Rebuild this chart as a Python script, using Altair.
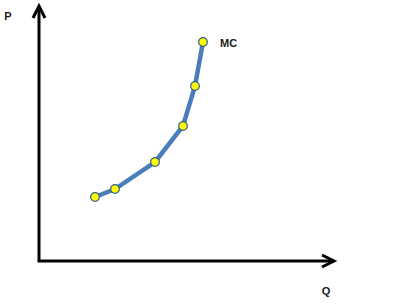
import altair as alt
import pandas as pd

# MC curve points (Q, P)
q_vals = [5.6, 7.6, 11.6, 14.4, 15.6, 16.4]
p_vals = [6.4, 7.2, 9.9, 13.5, 17.5, 21.9]

# axis extents
axis_q = [0, 0, 29.5]
axis_p = [25.5, 0, 0]
axis_order = [0, 1, 2]

# labels
label_text = ["P", "Q"]
label_q = [-3.1, 28.7]
label_p = [24.4, -3.1]

mc_df = pd.DataFrame({"Q": q_vals, "P": p_vals})
axis_df = pd.DataFrame({"Q": axis_q, "P": axis_p, "o": axis_order})
lab_df = pd.DataFrame({"t": label_text, "Q": label_q, "P": label_p})
mc_lab = pd.DataFrame({"t": ["MC"], "Q": [q_vals[-1] + 1.7], "P": [p_vals[-1] - 0.2]})
ytip = pd.DataFrame({"Q": [axis_q[0]], "P": [axis_p[0]]})
xtip = pd.DataFrame({"Q": [axis_q[2]], "P": [axis_p[2]]})

xs = alt.Scale(domain=[-3.9, 35.5], nice=False, zero=False)
ys = alt.Scale(domain=[-4.5, 26.1], nice=False, zero=False)
X = alt.X("Q:Q", scale=xs, axis=None)
Y = alt.Y("P:Q", scale=ys, axis=None)

axes = alt.Chart(axis_df).mark_line(color="black", strokeWidth=3, strokeJoin="miter").encode(
    x=X, y=Y, order="o:Q")

up_arrow = alt.Chart(ytip).mark_point(
    shape="M-1,2L0,0L1,2", size=144, filled=False, stroke="black", strokeWidth=3,
    strokeJoin="miter", opacity=1).encode(x=X, y=Y)
right_arrow = alt.Chart(xtip).mark_point(
    shape="M-2,-1L0,0L-2,1", size=144, filled=False, stroke="black", strokeWidth=3,
    strokeJoin="miter", opacity=1).encode(x=X, y=Y)

curve = alt.Chart(mc_df).mark_line(color="#4A7EBB", strokeWidth=4.5).encode(x=X, y=Y)
pts = alt.Chart(mc_df).mark_point(
    filled=True, fill="#FFFF00", stroke="#2F5F8A", strokeWidth=1.2, size=75, opacity=1
).encode(x=X, y=Y)

labels = alt.Chart(lab_df).mark_text(
    font="Liberation Sans", fontSize=11, fontWeight="bold", color="#1a1a1a",
    align="center", baseline="middle").encode(x=X, y=Y, text="t:N")
mclabel = alt.Chart(mc_lab).mark_text(
    font="Liberation Sans", fontSize=11, fontWeight="bold", color="#1a1a1a",
    align="left", baseline="middle").encode(x=X, y=Y, text="t:N")

chart = alt.layer(axes, up_arrow, right_arrow, curve, pts, labels, mclabel).properties(
    width=394, height=306, autosize=alt.AutoSizeParams(type="none"), padding=0
).configure_view(stroke=None)

chart.save("out.html", embed_options={"renderer": "svg", "actions": False})
